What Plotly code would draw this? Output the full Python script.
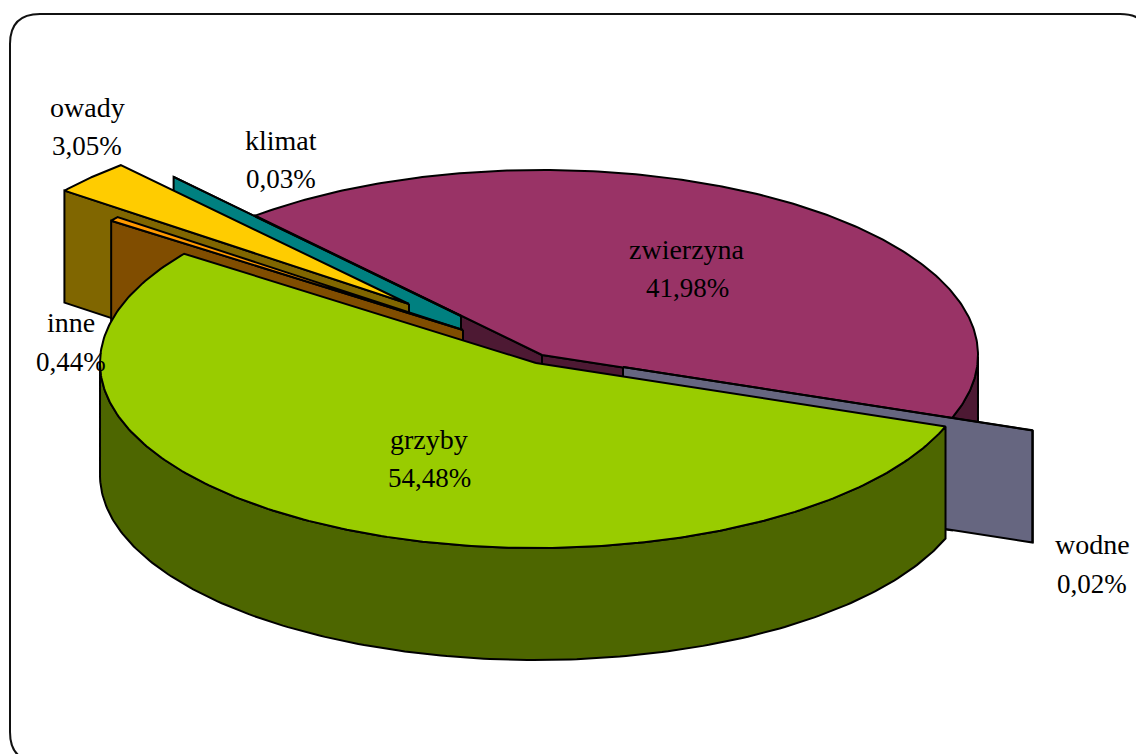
import math
import plotly.graph_objects as go

# ---- data (counter-clockwise from the start angle) ----
categories = ["zwierzyna", "klimat", "owady", "inne", "grzyby", "wodne"]
shares = [41.98, 0.03, 3.05, 0.44, 54.48, 0.02]

# ---- style ----
top_colors = ["#993366", "#00ffff", "#ffcc00", "#ff9900", "#99cc00", "#ccccff"]
wall_colors = ["#4d1933", "#008080", "#806600", "#804d00", "#4d6600", "#666680"]
# pull-out of each slice from the pie centre, in pixels
pull_x = [3, -78, -130, -76, -3, 84]
pull_y = [-4, -43, -55, -29, 4, 8]
draw_order = ["zwierzyna", "wodne", "klimat", "owady", "inne", "grzyby"]
label_pos = {
    "zwierzyna": (687, 249, 288),
    "klimat": (281, 140, 179),
    "owady": (87, 107, 146),
    "inne": (71, 322, 362),
    "grzyby": (429, 439, 478),
    "wodne": (1092, 544, 584),
}
CX, CY, RX, RY, DEPTH = 539, 359, 436, 185, 112
START = -20


def rim(cx, cy, t):
    r = math.radians(t)
    return cx + RX * math.cos(r), cy - RY * math.sin(r)


fig = go.Figure()


def face(points, color):
    xs = [p[0] for p in points] + [points[0][0]]
    ys = [p[1] for p in points] + [points[0][1]]
    fig.add_trace(go.Scatter(x=xs, y=ys, mode="lines", fill="toself", fillcolor=color,
                             line=dict(color="black", width=2), hoverinfo="skip",
                             showlegend=False))


# angular extents from the values
total = sum(shares)
extent = {}
acc = START
for name, v in zip(categories, shares):
    extent[name] = (acc, acc + v / total * 360)
    acc += v / total * 360

for name in draw_order:
    i = categories.index(name)
    t0, t1 = extent[name]
    cx = CX + pull_x[i]
    cy = CY + pull_y[i]
    wall, top = wall_colors[i], top_colors[i]
    # radial walls that face the viewer
    if math.sin(math.radians(t0 - 90)) < 0:
        x, y = rim(cx, cy, t0)
        face([(cx, cy), (x, y), (x, y + DEPTH), (cx, cy + DEPTH)], wall)
    if math.sin(math.radians(t1 + 90)) < 0:
        x, y = rim(cx, cy, t1)
        face([(cx, cy), (x, y), (x, y + DEPTH), (cx, cy + DEPTH)], wall)
    # curved outer wall: visible where the rim is on the near half
    ts = [t0 + (t1 - t0) * k / 240 for k in range(241)]
    near = [t for t in ts if math.sin(math.radians(t)) < 0]
    if len(near) > 1:
        upper = [rim(cx, cy, t) for t in near]
        lower = [(x, y + DEPTH) for x, y in reversed(upper)]
        face(upper + lower, wall)
    # top face
    face([(cx, cy)] + [rim(cx, cy, t) for t in ts], top)

annotations = []
for name, v in zip(categories, shares):
    lx, y1, y2 = label_pos[name]
    pct = f"{v:.2f}".replace(".", ",") + "%"
    for text, ly, size in ((name, y1, 28), (pct, y2, 27)):
        annotations.append(dict(x=lx, y=ly, xref="x", yref="y", text=text, showarrow=False,
                                xanchor="center", yanchor="middle",
                                font=dict(family="Liberation Serif", size=size, color="black")))

frame = ("M 10 44 Q 10 14 40 14 L 1120 14 Q 1150 14 1150 44 L 1150 732 "
         "Q 1150 762 1120 762 L 40 762 Q 10 762 10 732 Z")

fig.update_layout(
    width=1136, height=754, margin=dict(l=0, r=0, t=0, b=0),
    paper_bgcolor="white", plot_bgcolor="white", showlegend=False,
    xaxis=dict(range=[0, 1136], visible=False, fixedrange=True),
    yaxis=dict(range=[754, 0], visible=False, fixedrange=True),
    annotations=annotations,
    shapes=[dict(type="path", path=frame, xref="x", yref="y", line=dict(color="#111", width=2),
                 layer="below")],
)
fig.write_html("out.html", config={"displayModeBar": False},
               post_script="document.body.style.margin='0';document.body.style.overflow='hidden';")
